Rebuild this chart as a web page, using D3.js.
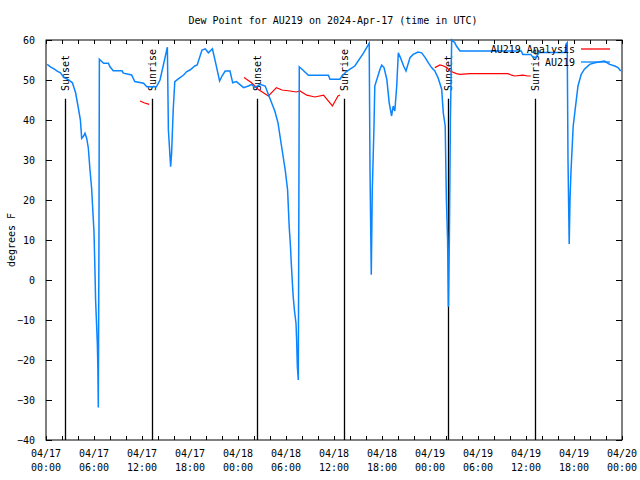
<!DOCTYPE html>
<html><head><meta charset="utf-8">
<script src="https://cdn.jsdelivr.net/npm/d3@7"></script>
<style>body{margin:0;background:#fff}svg text{font-family:"DejaVu Sans Mono",monospace;font-size:10px;fill:#000}</style>
</head><body><svg id="c" width="640" height="480"></svg>
<script>
// Hours since 2024-04-17 00:00 UTC
const stationHours = [0.15,0.6,1.0,1.4,1.8,2.25,2.7,3.3,3.7,4.0,4.3,4.46,4.7,4.875,5.09,5.29,5.5,5.7,5.85,6.0,6.1,6.2,6.3,6.42,6.48,6.54,6.62,6.67,7.2,7.8,8.0,8.4,9.5,9.67,10.7,11.1,12.2,12.6,13.8,14.25,14.9,15.17,15.3,15.58,15.7,15.9,16.1,16.5,17.2,17.6,18.0,18.6,18.9,19.5,19.9,20.3,20.8,21.1,21.7,22.0,22.4,23.0,23.34,23.8,24.7,25.3,25.7,26.1,26.75,27.4,27.8,28.2,28.6,29.0,29.4,29.9,30.2,30.3,30.4,30.55,30.66,30.8,30.9,31.05,31.25,31.33,31.42,31.54,31.66,32.0,32.8,35.3,35.5,36.75,37.0,37.5,38.0,38.6,39.7,40.4,40.5,40.66,40.78,41.0,41.1,41.75,41.96,42.25,42.6,42.9,43.2,43.4,43.6,43.84,44.04,44.3,44.7,45.0,45.5,45.9,46.5,46.96,47.4,47.8,48.2,48.6,49.0,49.46,49.66,49.9,50.05,50.2,50.3,50.42,50.55,50.71,51.1,51.3,51.75,59.4,59.6,60.6,60.9,61.2,61.5,61.6,64.9,65.0,65.15,65.25,65.4,65.5,65.62,65.9,66.3,66.5,66.9,67.3,67.96,68.6,69.8,70.46,71.1,71.5,71.84];
const stationDew = [53.9,53.2,52.8,52.2,51.8,50.6,50.2,49.3,46.8,43.5,40,35.4,36,36.7,35.4,33,27.5,23,17.5,12,4,-5,-10,-16,-21.5,-31.9,10,55.2,54.2,54.2,53.3,52.3,52.3,51.7,51.25,49.6,49.2,48.3,48.3,50,55.8,58.2,37.5,28.3,31.7,42.5,49.6,50.2,51.25,52.1,52.5,53.5,53.75,57.5,57.8,56.8,57.8,55.2,49.75,51,52.25,52.25,49.3,49.6,48.1,48.5,48.9,48.1,48.9,48.5,46.4,44.3,42.25,39.3,34,27.5,22.5,17.9,13.3,8.75,4.2,-0.8,-4.2,-7.5,-10.8,-15,-21.7,-25,53.3,52.7,51.2,51.2,50.2,50.2,51,52,52.7,53.5,56.8,59.2,27.5,1.3,22,38.5,48.5,52.7,53.7,53.1,50.2,44.3,41,43.5,42.25,48.5,56.8,55.6,53.5,52.25,55.6,56.4,57,56.8,55.6,54.3,53.1,52.25,50.6,47.7,41.8,38.5,20,10,-6.7,10,40,60,59.3,58.5,57.25,57.25,56.4,56.4,55.6,55.6,56.4,56.9,56.9,58.9,59.3,30,9,20,27,38.5,45.2,48.5,51.4,52.7,53.9,54.3,54.75,53.9,53.5,53.1,52.25];
// null marks a gap in the analysis series
const analysisHours = [11.75,12.25,12.9,13.0,24.75,25.7,26.5,27.8,28.8,29.5,30.5,31.3,31.75,32.6,33.6,34.7,35.1,35.8,36.5,36.75,37.0,48.6,49.25,49.7,50.1,50.5,51.3,51.75,53.0,54.0,55.5,57.75,58.2,58.6,59.6,60.2,60.6];
const analysisDew = [44.75,44.3,43.9,null,50.6,49.3,47.7,46,48.1,47.5,47.25,47,47.25,46.2,45.75,46.2,45.2,43.5,46,46.25,null,53.1,53.75,53.5,53.1,52.25,51.6,51.4,51.6,51.6,51.6,51.6,51.2,51,51.2,51,51];
const sunEvents = ["Sunset","Sunrise","Sunset","Sunrise","Sunset","Sunrise"];
const sunHours = [2.33,13.3,26.33,37.25,50.3,61.17];
const yTicks = [-40,-30,-20,-10,0,10,20,30,40,50,60];
const xTickHours = [0,6,12,18,24,30,36,42,48,54,60,66,72];

const t0 = Date.UTC(2024,3,17,0,0);
const toDate = h => new Date(t0 + h*3600000);
const svg = d3.select("#c");
const L=46,R=622,T=40,B=440;
const x = d3.scaleUtc().domain([toDate(0),toDate(72)]).range([L,R]);
const y = d3.scaleLinear().domain([-40,60]).range([B,T]);

svg.append("text").attr("x",333).attr("y",20).attr("text-anchor","middle").attr("dominant-baseline","central")
  .text("Dew Point for AU219 on 2024-Apr-17 (time in UTC)");
svg.append("text").attr("transform","translate(11,240) rotate(-90)").attr("text-anchor","middle").attr("dominant-baseline","central").text("degrees F");

// axes
const fmt1 = d3.utcFormat("%m/%d"), fmt2 = d3.utcFormat("%H:%M");
const minor = d3.range(0,73,2).map(toDate);
const bAx = svg.append("g").attr("transform",`translate(0,${B})`)
  .call(d3.axisBottom(x).tickValues(minor).tickSize(-4).tickFormat(""));
const tAx = svg.append("g").attr("transform",`translate(0,${T})`)
  .call(d3.axisTop(x).tickValues(minor).tickSize(-4).tickFormat(""));
const lAx = svg.append("g").attr("transform",`translate(${L},0)`)
  .call(d3.axisLeft(y).tickValues(yTicks).tickSize(-6).tickPadding(10));
const rAx = svg.append("g").attr("transform",`translate(${R},0)`)
  .call(d3.axisRight(y).tickValues(yTicks).tickSize(-6).tickFormat(""));
[bAx,tAx,lAx,rAx].forEach(g=>{g.select(".domain").remove();g.selectAll("line").attr("stroke","#000");g.selectAll("text").attr("font-family","DejaVu Sans Mono").attr("font-size",10);});
lAx.selectAll("text").attr("dx",0).attr("x",-11);

const xl = svg.append("g");
xTickHours.forEach(h=>{
  const d=toDate(h), px=x(d);
  const t=xl.append("text").attr("x",px).attr("y",453).attr("text-anchor","middle").attr("dominant-baseline","central");
  t.text(fmt1(d));
  xl.append("text").attr("x",px).attr("y",467).attr("text-anchor","middle").attr("dominant-baseline","central").text(fmt2(d));
});

svg.append("rect").attr("x",L).attr("y",T).attr("width",R-L).attr("height",B-T).attr("fill","none").attr("stroke","#000").attr("stroke-width",1);

// sun lines
sunHours.forEach((h,i)=>{
  const px = Math.round(x(toDate(h)))+0.5;
  svg.append("line").attr("x1",px).attr("x2",px).attr("y1",y(45.3)).attr("y2",B).attr("stroke","#000").attr("stroke-width",1.3);
  svg.append("text").attr("transform",`translate(${px},91) rotate(-90)`).attr("dominant-baseline","central").text(sunEvents[i]);
});

// series
const line = d3.line().defined(d=>d[1]!==null).x(d=>x(toDate(d[0]))).y(d=>y(d[1]));
svg.append("path").datum(analysisHours.map((h,i)=>[h,analysisDew[i]]))
  .attr("d",line).attr("fill","none").attr("stroke","#ff0000").attr("stroke-width",1.2);
svg.append("path").datum(stationHours.map((h,i)=>[h,stationDew[i]]))
  .attr("d",line).attr("fill","none").attr("stroke","#0a84ff").attr("stroke-width",1.5);

// legend
const leg=[["AU219 Analysis","#ff0000",49],["AU219","#0a84ff",62]];
leg.forEach(([n,c,ly])=>{
  svg.append("text").attr("x",575).attr("y",ly).attr("text-anchor","end").attr("dominant-baseline","central").text(n);
  svg.append("line").attr("x1",581).attr("x2",610).attr("y1",ly).attr("y2",ly).attr("stroke",c).attr("stroke-width",1.3);
});
</script></body></html>
